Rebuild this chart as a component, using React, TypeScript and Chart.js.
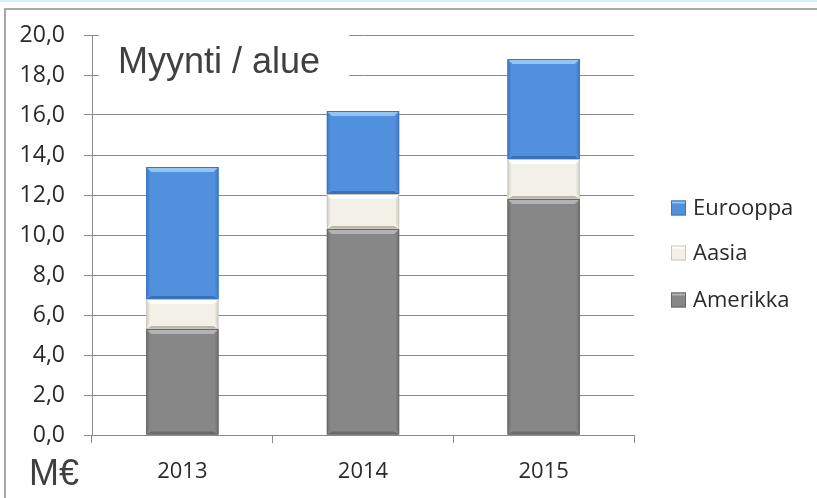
import React, { useEffect, useRef } from "react";
import { Chart, registerables } from "chart.js";

Chart.register(...registerables);

const categories = ["2013", "2014", "2015"];
const amerikka = [5.3, 10.3, 11.8];
const aasia = [1.5, 1.75, 2.0];
const eurooppa = [6.6, 4.15, 5.0];
const seriesLabels = ["Amerikka", "Aasia", "Eurooppa"];
const seriesColors = ["#878787", "#f3f1e7", "#5190dd"];
const yMin = 0;
const yMax = 20;
const yStep = 2;
const titleText = "Myynti / alue";
const unitText = "M€";

const bevelStyles = [
  { top: "#b3b3b3", bottom: "#6c6c6c", side: "#7b7b7b", border: "#666666" },
  { top: "#ffffff", bottom: "#b9b7ae", side: "#dedcd2", border: "#c9c7bd" },
  { top: "#93c4f4", bottom: "#3c70b6", side: "#4683cf", border: "#3d73bd" },
];

const FONT = "'Open Sans', 'DejaVu Sans', sans-serif";
const TITLE_FONT = "'Liberation Sans', Arial, sans-serif";

const decorPlugin = {
  id: "decor",
  beforeDraw(chart: any) {
    const ctx = chart.ctx;
    const w = chart.width;
    const h = chart.height;
    ctx.save();
    ctx.fillStyle = "#ffffff";
    ctx.fillRect(0, 0, w, h);
    ctx.fillStyle = "#d5f0f8";
    ctx.fillRect(0, 0, w, 2);
    ctx.fillStyle = "#a8a8a8";
    ctx.fillRect(4, 8, w - 4, 2);
    ctx.fillRect(4, 8, 2, h - 8);
    ctx.restore();
  },
  afterDraw(chart: any) {
    const ctx = chart.ctx;
    const area = chart.chartArea;
    ctx.save();
    ctx.fillStyle = "#ffffff";
    ctx.fillRect(area.left + 7, area.top - 8, 250, 52);
    ctx.fillStyle = "#404040";
    ctx.font = `36px ${TITLE_FONT}`;
    ctx.textBaseline = "alphabetic";
    ctx.textAlign = "left";
    ctx.fillText(titleText, area.left + 26, area.top + 38);
    ctx.fillText(unitText, 29, area.bottom + 50);

    const ds = chart.data.datasets;
    const n = ds.length;
    const ys = [208, 253, 300];
    ctx.font = `22px ${FONT}`;
    ctx.textBaseline = "middle";
    for (let k = 0; k < n; k++) {
      const i = n - 1 - k;
      const y = ys[k];
      const bx = 671;
      const bs = 15;
      const st = bevelStyles[i];
      ctx.fillStyle = ds[i].backgroundColor;
      ctx.fillRect(bx, y - bs / 2, bs, bs);
      ctx.fillStyle = st.top;
      ctx.fillRect(bx + 1, y - bs / 2, bs - 2, 3);
      ctx.strokeStyle = st.border;
      ctx.lineWidth = 1;
      ctx.strokeRect(bx + 0.5, y - bs / 2 + 0.5, bs - 1, bs - 1);
      ctx.fillStyle = "#2a2a2a";
      ctx.fillText(ds[i].label, 693, y + 1);
    }
    ctx.restore();
  },
};

const bevelPlugin = {
  id: "bevel",
  afterDatasetsDraw(chart: any) {
    const ctx = chart.ctx;
    ctx.save();
    chart.data.datasets.forEach((_ds: any, i: number) => {
      const meta = chart.getDatasetMeta(i);
      const st = bevelStyles[i];
      meta.data.forEach((el: any) => {
        const p = el.getProps(["x", "y", "base", "width"], true);
        const l = p.x - p.width / 2;
        const r = p.x + p.width / 2;
        const t = Math.min(p.y, p.base);
        const b = Math.max(p.y, p.base);
        const d = Math.min(5, (b - t) / 2);
        ctx.fillStyle = st.side;
        ctx.beginPath();
        ctx.moveTo(l, t);
        ctx.lineTo(l + d * 0.6, t + d);
        ctx.lineTo(l + d * 0.6, b - d);
        ctx.lineTo(l, b);
        ctx.closePath();
        ctx.fill();
        ctx.beginPath();
        ctx.moveTo(r, t);
        ctx.lineTo(r - d * 0.6, t + d);
        ctx.lineTo(r - d * 0.6, b - d);
        ctx.lineTo(r, b);
        ctx.closePath();
        ctx.fill();
        ctx.fillStyle = st.top;
        ctx.beginPath();
        ctx.moveTo(l, t);
        ctx.lineTo(r, t);
        ctx.lineTo(r - d, t + d);
        ctx.lineTo(l + d, t + d);
        ctx.closePath();
        ctx.fill();
        ctx.fillStyle = st.bottom;
        ctx.beginPath();
        ctx.moveTo(l, b);
        ctx.lineTo(r, b);
        ctx.lineTo(r - d, b - d * 0.6);
        ctx.lineTo(l + d, b - d * 0.6);
        ctx.closePath();
        ctx.fill();
        ctx.strokeStyle = st.border;
        ctx.lineWidth = 1;
        ctx.strokeRect(l + 0.5, t + 0.5, r - l - 1, b - t - 1);
      });
    });
    ctx.restore();
  },
};

export default function App() {
  const ref = useRef<HTMLCanvasElement | null>(null);

  useEffect(() => {
    document.body.style.margin = "0";
    if (!ref.current) return;
    const seriesData = [amerikka, aasia, eurooppa];
    const chart = new Chart(ref.current, {
      type: "bar",
      data: {
        labels: categories,
        datasets: seriesLabels.map((label, i) => ({
          label,
          data: seriesData[i],
          backgroundColor: seriesColors[i],
          borderWidth: 0,
          barPercentage: 0.4,
          categoryPercentage: 1,
        })),
      },
      options: {
        responsive: false,
        animation: false,
        layout: { padding: { left: 0, top: 35, right: 183, bottom: 0 } },
        plugins: {
          legend: { display: false },
          tooltip: { enabled: false },
          title: { display: false },
        },
        scales: {
          x: {
            stacked: true,
            grid: {
              display: true,
              drawOnChartArea: false,
              drawTicks: true,
              tickLength: 8,
              color: "#8a8a8a",
              offset: true,
            },
            border: { display: true, color: "#8a8a8a" },
            ticks: {
              padding: 16,
              color: "#2a2a2a",
              font: { family: FONT, size: 22 },
              maxRotation: 0,
            },
            afterFit: (s: any) => {
              s.height = 63;
            },
          },
          y: {
            stacked: true,
            min: yMin,
            max: yMax,
            ticks: {
              stepSize: yStep,
              padding: 19,
              color: "#2a2a2a",
              font: { family: FONT, size: 23 },
              callback: (v: any) => Number(v).toFixed(1).replace(".", ","),
            },
            grid: {
              color: "#8a8a8a",
              drawTicks: true,
              tickLength: 8,
            },
            border: { display: true, color: "#8a8a8a" },
            afterFit: (s: any) => {
              s.width = 92;
            },
          },
        },
      },
      plugins: [decorPlugin, bevelPlugin],
    });
    return () => chart.destroy();
  }, []);

  return (
    <div style={{ position: "fixed", left: 0, top: 0, width: 817, height: 498 }}>
      <canvas ref={ref} width={817} height={498} style={{ display: "block" }} />
    </div>
  );
}
